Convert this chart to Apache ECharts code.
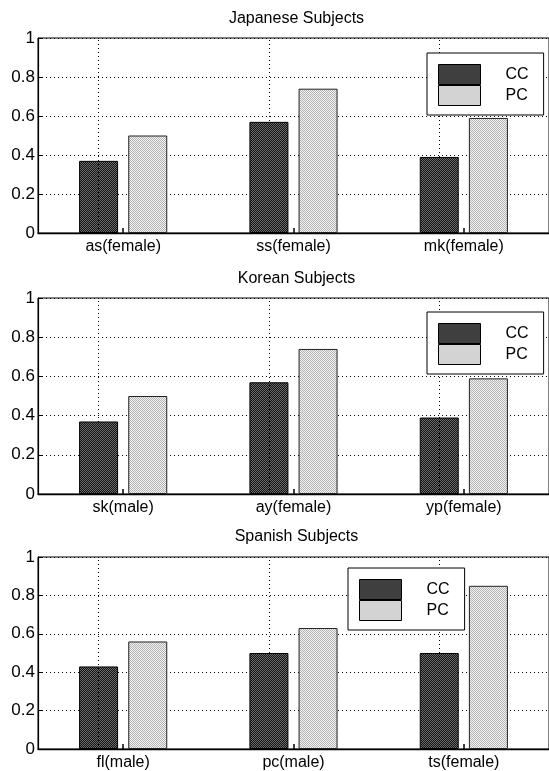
<!DOCTYPE html>
<html>
<head>
<meta charset="utf-8">
<script src="https://cdn.jsdelivr.net/npm/echarts@6/dist/echarts.min.js"></script>
<style>
  html, body { margin: 0; padding: 0; background: #fff; }
  #chart { width: 549px; height: 771px; }
</style>
</head>
<body>
<div id="chart"></div>
<script>
// Subject groups and their CC / PC scores
const japaneseSubjects = ['as(female)', 'ss(female)', 'mk(female)'];
const japaneseCC = [0.37, 0.57, 0.39];
const japanesePC = [0.50, 0.74, 0.59];

const koreanSubjects = ['sk(male)', 'ay(female)', 'yp(female)'];
const koreanCC = [0.37, 0.57, 0.39];
const koreanPC = [0.50, 0.74, 0.59];

const spanishSubjects = ['fl(male)', 'pc(male)', 'ts(female)'];
const spanishCC = [0.43, 0.50, 0.50];
const spanishPC = [0.56, 0.63, 0.85];

const panelTitles = ['Japanese Subjects', 'Korean Subjects', 'Spanish Subjects'];
const seriesNames = ['CC', 'PC'];
const yTicks = [0, 0.2, 0.4, 0.6, 0.8, 1];

const panels = [
  { title: panelTitles[0], cats: japaneseSubjects, cc: japaneseCC, pc: japanesePC },
  { title: panelTitles[1], cats: koreanSubjects, cc: koreanCC, pc: koreanPC },
  { title: panelTitles[2], cats: spanishSubjects, cc: spanishCC, pc: spanishPC }
];

// Panel geometry
const layout = [
  { top: 38, height: 195, titleTop: 11, legendLeft: 427, legendTop: 53 },
  { top: 298, height: 196, titleTop: 271, legendLeft: 427, legendTop: 312 },
  { top: 557, height: 195, titleTop: 529, legendLeft: 348, legendTop: 568 }
];
const plotLeft = 38;
const plotWidth = 517;
const FONT = '"Liberation Sans", Arial, Helvetica, sans-serif';

// Small dithered fill textures (halftone look)
function makePattern(a, b) {
  const c = document.createElement('canvas');
  c.width = 2; c.height = 2;
  const ctx = c.getContext('2d');
  ctx.fillStyle = a; ctx.fillRect(0, 0, 2, 2);
  ctx.fillStyle = b; ctx.fillRect(0, 0, 1, 1); ctx.fillRect(1, 1, 1, 1);
  return { image: c, repeat: 'repeat' };
}
const darkFill = makePattern('#151515', '#6a6a6a');
const lightFill = makePattern('#f2f2f2', '#b4b4b4');

const dotted = [1, 3];

const option = {
  backgroundColor: '#fff',
  animation: false,
  textStyle: { fontFamily: FONT },
  title: panels.map((p, i) => ({
    text: p.title,
    left: plotLeft + plotWidth / 2,
    textAlign: 'center',
    top: layout[i].titleTop,
    padding: 0,
    textStyle: { fontFamily: FONT, fontSize: 16, fontWeight: 'normal', color: '#000' }
  })),
  legend: panels.map((p, i) => ({
    data: seriesNames,
    orient: 'vertical',
    left: layout[i].legendLeft,
    top: layout[i].legendTop,
    padding: [11, 15, 9, 11],
    itemWidth: 42,
    itemHeight: 20,
    itemGap: 0,
    borderColor: '#000',
    borderWidth: 1,
    backgroundColor: '#fff',
    selectedMode: false,
    icon: 'rect',
    z: 10,
    itemStyle: { borderWidth: 1, borderColor: '#000' },
    textStyle: { fontFamily: FONT, fontSize: 16, color: '#000', lineHeight: 20, padding: [0, 0, 0, 20] }
  })),
  grid: panels.map((p, i) => ({
    left: plotLeft,
    top: layout[i].top,
    width: plotWidth,
    height: layout[i].height,
    show: true,
    borderColor: '#000',
    borderWidth: 1,
    backgroundColor: 'transparent',
    containLabel: false
  })),
  xAxis: panels.map((p, i) => ({
    type: 'category',
    gridIndex: i,
    data: p.cats,
    boundaryGap: true,
    axisLine: { show: true, lineStyle: { color: '#000', width: 1.4 } },
    axisTick: { show: true, inside: true, alignWithLabel: true, length: 5, lineStyle: { color: '#000', width: 1.5 } },
    axisLabel: { interval: 0, margin: 6, fontFamily: FONT, fontSize: 16, color: '#000' },
    splitLine: { show: false }
  })),
  yAxis: panels.map((p, i) => ({
    type: 'value',
    gridIndex: i,
    min: yTicks[0],
    max: yTicks[yTicks.length - 1],
    interval: 0.2,
    axisLine: { show: true, lineStyle: { color: '#000', width: 1.2 } },
    axisTick: { show: true, inside: true, length: 5, lineStyle: { color: '#000' } },
    axisLabel: { margin: 3, fontFamily: FONT, fontSize: 17, color: '#000' },
    splitLine: { show: true, lineStyle: { color: '#000', type: dotted, width: 1 } }
  })),
  series: []
};

panels.forEach((p, i) => {
  option.series.push({
    name: seriesNames[0],
    type: 'bar',
    xAxisIndex: i,
    yAxisIndex: i,
    data: p.cc,
    barWidth: 39,
    barGap: '26%',
    itemStyle: { color: darkFill, borderColor: '#000', borderWidth: 1 },
    markLine: {
      silent: true,
      symbol: 'none',
      label: { show: false },
      lineStyle: { color: '#000', type: dotted, width: 1 },
      data: p.cats.map(c => ({ xAxis: c }))
    }
  });
  option.series.push({
    name: seriesNames[1],
    type: 'bar',
    xAxisIndex: i,
    yAxisIndex: i,
    data: p.pc,
    barWidth: 39,
    barGap: '26%',
    itemStyle: { color: lightFill, borderColor: '#222', borderWidth: 1 }
  });
});

const chart = echarts.init(document.getElementById('chart'), null, { renderer: 'canvas' });
chart.setOption(option);
</script>
</body>
</html>
